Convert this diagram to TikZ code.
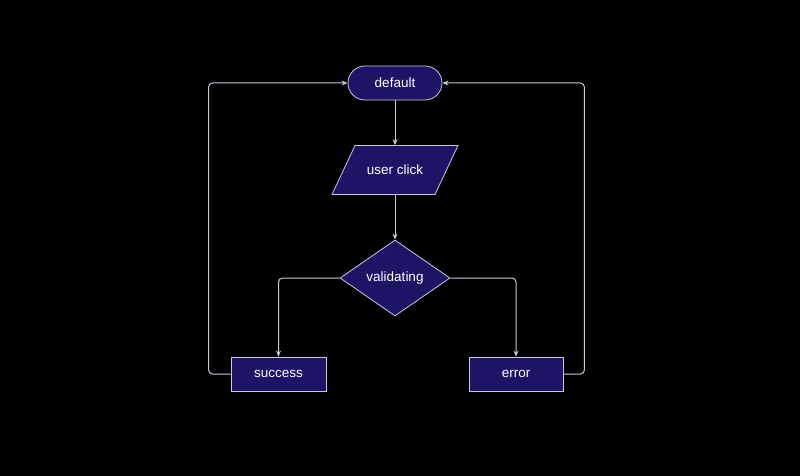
\documentclass[tikz,border=0pt]{standalone}
\usepackage{fontspec}
\setmainfont{Liberation Sans}
\usetikzlibrary{shapes.geometric,shapes.misc,arrows.meta}
\definecolor{navy}{RGB}{30,20,102}
\definecolor{edge}{RGB}{200,200,220}
\tikzset{
  box/.style={draw=edge, line width=0.8pt, fill=navy, text=white, font=\fontsize{13.5}{15}\selectfont, inner sep=0pt},
  conn/.style={draw=edge, line width=1pt, rounded corners=4pt, -{Stealth[length=6pt,width=5pt]}}
}
\begin{document}
\begin{tikzpicture}[x=1pt,y=-1pt]
\fill[black] (0,0) rectangle (800,476);
\useasboundingbox (0,0) rectangle (800,476);
\node[box, rounded rectangle, minimum width=94pt, minimum height=34pt] (def) at (395,83) {default};
\draw[draw=edge, line width=0.8pt, fill=navy] (395-63,170+24.5) -- (395+40,170+24.5) -- (395+63,170-24.5) -- (395-40,170-24.5) -- cycle;
\node[box, draw=none, fill=none, rectangle, minimum width=80pt, minimum height=49pt] (uc) at (395,170) {user click};
\node[box, diamond, minimum width=110pt, minimum height=76pt, aspect=1.45] (val) at (395,278) {validating};
\node[box, rectangle, minimum width=95pt, minimum height=34pt] (suc) at (278.5,374) {success};
\node[box, rectangle, minimum width=94pt, minimum height=34pt] (err) at (516,374) {error};
\draw[conn] (def.south) -- (uc.north);
\draw[conn] (uc.south) -- (val.north);
\draw[conn] (val.west) -| (suc.north);
\draw[conn] (val.east) -| (err.north);
\draw[conn] (suc.west) -- ++(-22,0) |- (def.west);
\draw[conn] (err.east) -- ++(21,0) |- (def.east);
\end{tikzpicture}
\end{document}
